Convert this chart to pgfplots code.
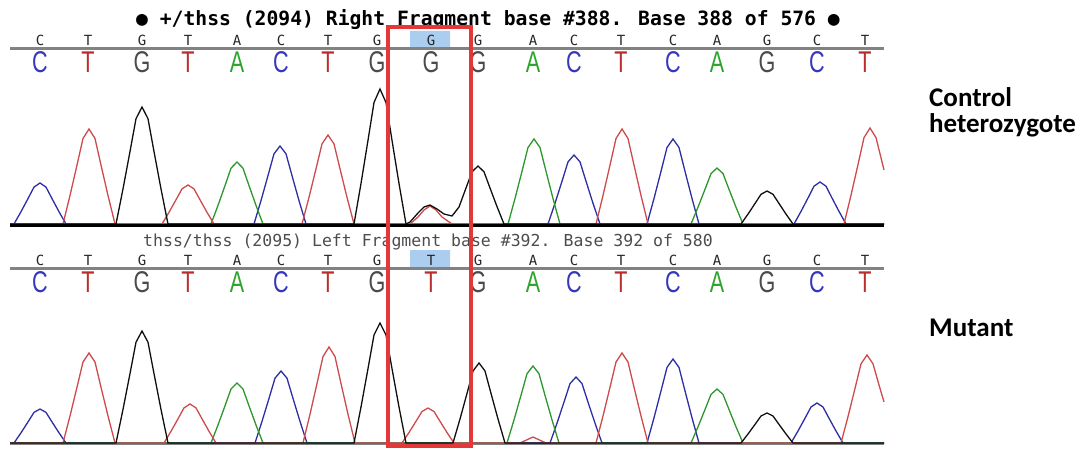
\documentclass[border=0pt]{standalone}
\usepackage{pgfplots}
\pgfplotsset{compat=1.18}
\usepackage{fontspec}
\setmainfont{Liberation Sans}
\newfontfamily\monof{DejaVu Sans Mono}
\newfontfamily\labfont{Carlito}
\newfontfamily\bigf{Liberation Sans}
\definecolor{tblue}{RGB}{45,45,165}
\definecolor{tred}{RGB}{205,75,75}
\definecolor{tgreen}{RGB}{45,150,45}
\definecolor{tblack}{RGB}{15,15,15}
\definecolor{lblue}{RGB}{55,55,185}
\definecolor{lred}{RGB}{185,45,45}
\definecolor{lgreen}{RGB}{45,165,45}
\definecolor{lgray}{RGB}{75,75,75}
\definecolor{rule}{RGB}{130,130,130}
\definecolor{boxred}{RGB}{228,55,55}
\definecolor{hl}{RGB}{170,205,240}
\newcommand{\SL}[2]{\node[anchor=base,inner sep=0pt,font=\monof\fontsize{14}{14}\selectfont,text=black!85] at (axis cs:#1) {#2};}
\newcommand{\BL}[3]{\node[anchor=base,inner sep=0pt,font=\bigf\fontsize{30}{30}\selectfont,text=#2] at (axis cs:#1) {\scalebox{0.72}[1]{#3}};}
\begin{document}
\begin{tikzpicture}
\begin{axis}[hide axis, scale only axis, width=1086pt, height=448pt,
  xmin=0, xmax=1086, ymin=0, ymax=448, y dir=reverse, clip=false]
% highlights
\addplot[fill=hl, draw=none] coordinates {(410,31) (450,31) (450,47) (410,47) (410,31)};
\addplot[fill=hl, draw=none] coordinates {(410,250) (450,250) (450,267) (410,267) (410,250)};
% rules
\addplot[rule, line width=3pt] coordinates {(10,48) (884,48)};
\addplot[rule, line width=3pt] coordinates {(10,268) (884,268)};
\addplot[rule, line width=2pt] coordinates {(10,444) (884,444)};
% small letters top
\SL{40,45}{C}\SL{88,45}{T}\SL{142,45}{G}\SL{188,45}{T}\SL{237,45}{A}\SL{281,45}{C}
\SL{328,45}{T}\SL{377,45}{G}\SL{431,45}{G}\SL{478,45}{G}\SL{533,45}{A}\SL{574,45}{C}
\SL{621,45}{T}\SL{673,45}{C}\SL{717,45}{A}\SL{767,45}{G}\SL{817,45}{C}\SL{865,45}{T}
% small letters bottom
\SL{40,265}{C}\SL{88,265}{T}\SL{142,265}{G}\SL{188,265}{T}\SL{237,265}{A}\SL{281,265}{C}
\SL{328,265}{T}\SL{377,265}{G}\SL{431,265}{T}\SL{478,265}{G}\SL{533,265}{A}\SL{574,265}{C}
\SL{621,265}{T}\SL{673,265}{C}\SL{717,265}{A}\SL{767,265}{G}\SL{817,265}{C}\SL{865,265}{T}
% big letters top
\BL{40,72}{lblue}{C}\BL{88,72}{lred}{T}\BL{142,72}{lgray}{G}\BL{188,72}{lred}{T}\BL{237,72}{lgreen}{A}\BL{281,72}{lblue}{C}
\BL{328,72}{lred}{T}\BL{377,72}{lgray}{G}\BL{431,72}{lgray}{G}\BL{478,72}{lgray}{G}\BL{533,72}{lgreen}{A}\BL{574,72}{lblue}{C}
\BL{621,72}{lred}{T}\BL{673,72}{lblue}{C}\BL{717,72}{lgreen}{A}\BL{767,72}{lgray}{G}\BL{817,72}{lblue}{C}\BL{865,72}{lred}{T}
% big letters bottom
\BL{40,292}{lblue}{C}\BL{88,292}{lred}{T}\BL{142,292}{lgray}{G}\BL{188,292}{lred}{T}\BL{237,292}{lgreen}{A}\BL{281,292}{lblue}{C}
\BL{328,292}{lred}{T}\BL{377,292}{lgray}{G}\BL{431,292}{lred}{T}\BL{478,292}{lgray}{G}\BL{533,292}{lgreen}{A}\BL{574,292}{lblue}{C}
\BL{621,292}{lred}{T}\BL{673,292}{lblue}{C}\BL{717,292}{lgreen}{A}\BL{767,292}{lgray}{G}\BL{817,292}{lblue}{C}\BL{865,292}{lred}{T}
% titles
\node[anchor=base, inner sep=0pt, font=\monof\bfseries\fontsize{19.7}{20}\selectfont] at (axis cs:488,25)
  {● +/thss (2094) Right Fragment base \#388. Base 388 of 576 ●};
\node[anchor=base, inner sep=0pt, font=\monof\fontsize{16.5}{16.5}\selectfont, text=black!70] at (axis cs:428,246)
  {thss/thss (2095) Left Fragment base \#392. Base 392 of 580};
% ---------- top traces (baseline 224)
\addplot[tblue, line width=1.3pt] coordinates {
(10,224)(14,224)(21,211.7)(28,198.6)(34,187.1)(40,183)(46,187.1)(52,198.6)(59,211.7)(66,224)
(254,224)(261,200.6)(268,175.6)(274,153.8)(280,146)(286,153.8)(292,175.6)(299,200.6)(306,224)
(548,224)(555,203.3)(562,181.2)(568,161.9)(574,155)(580,161.9)(586,181.2)(593,203.3)(600,224)
(647,224)(654,198.5)(661,171.3)(667,147.5)(673,139)(679,147.5)(685,171.3)(692,198.5)(699,224)
(794,224)(801,211.4)(808,198)(814,186.2)(820,182)(826,186.2)(832,198)(839,211.4)(846,224)(884,224)};
\addplot[tgreen, line width=1.3pt] coordinates {
(10,224)(211,224)(218,205.4)(225,185.6)(231,168.2)(237,162)(243,168.2)(249,185.6)(256,205.4)(263,224)
(508,224)(515,198.5)(522,171.3)(528,147.5)(534,139)(540,147.5)(546,171.3)(553,198.5)(560,224)
(691,224)(698,207.2)(705,189.3)(711,173.6)(717,168)(723,173.6)(729,189.3)(736,207.2)(743,224)(884,224)};
\addplot[tred, line width=1.3pt] coordinates {
(10,224)(63,224)(70,195.5)(77,165.1)(83,138.5)(89,129)(95,138.5)(101,165.1)(108,195.5)(115,224)
(162,224)(169,212.3)(176,199.8)(182,188.9)(188,185)(194,188.9)(200,199.8)(207,212.3)(214,224)
(302,224)(309,197.3)(316,168.8)(322,143.9)(328,135)(334,143.9)(340,168.8)(347,197.3)(354,224)
(410,224)(418,217)(424,210)(430,206)(436,210)(442,217)(452,224)
(596,224)(603,195.5)(610,165.1)(616,138.5)(622,129)(628,138.5)(634,165.1)(641,195.5)(648,224)
(844,224)(851,195.2)(858,164.5)(864,137.6)(870,128)(876,137.6)(884,170)};
\addplot[tblack, line width=1.3pt] coordinates {
(10,224)(116,224)(123,188.9)(130,151.5)(136,118.7)(142,107)(148,118.7)(154,151.5)(161,188.9)(168,224)
(354,224)(361,183.5)(368,140.3)(374,102.5)(380,89)(386,102.5)(392,140.3)(399,183.5)(406,224)
(410,222)(418,213)(424,207)(430,205)(437,209)(444,214)(452,216)(459,207)
(466,188)(472,171.8)(478,166)(484,171.8)(490,188)(497,206.6)(504,224)
(741,224)(748,214.1)(755,203.5)(761,194.3)(767,191)(773,194.3)(779,203.5)(786,214.1)(793,224)(884,224)};
% ---------- bottom traces (baseline 443)
\addplot[tblue, line width=1.3pt] coordinates {
(10,443)(14,443)(21,432.8)(28,421.9)(34,412.4)(40,409)(46,412.4)(52,421.9)(59,432.8)(66,443)
(255,443)(262,421.4)(269,398.4)(275,378.2)(281,371)(287,378.2)(293,398.4)(300,421.4)(307,443)
(550,443)(557,423.2)(564,402.1)(570,383.6)(576,377)(582,383.6)(588,402.1)(595,423.2)(602,443)
(647,443)(654,417.8)(661,390.9)(667,367.4)(673,359)(679,367.4)(685,390.9)(692,417.8)(699,443)
(791,443)(798,431)(805,418.2)(811,407)(817,403)(823,407)(829,418.2)(836,431)(843,443)(884,443)};
\addplot[tgreen, line width=1.3pt] coordinates {
(10,443)(211,443)(218,425)(225,405.8)(231,389)(237,383)(243,389)(249,405.8)(256,425)(263,443)
(507,443)(514,419.9)(521,395.3)(527,373.7)(533,366)(539,373.7)(545,395.3)(552,419.9)(559,443)
(691,443)(698,426.8)(705,409.5)(711,394.4)(717,389)(723,394.4)(729,409.5)(736,426.8)(743,443)(884,443)};
\addplot[tred, line width=1.3pt] coordinates {
(10,443)(63,443)(70,416)(77,387.2)(83,362)(89,353)(95,362)(101,387.2)(108,416)(115,443)
(164,443)(171,431.3)(178,418.8)(184,407.9)(190,404)(196,407.9)(202,418.8)(209,431.3)(216,443)
(303,443)(310,414.2)(317,383.5)(323,356.6)(329,347)(335,356.6)(341,383.5)(348,414.2)(355,443)
(402,443)(409,432.5)(416,421.3)(422,411.5)(428,408)(434,411.5)(440,421.3)(447,432.5)(454,443)
(520,443)(533,437)(546,443)
(596,443)(603,416)(610,387.2)(616,362)(622,353)(628,362)(634,387.2)(641,416)(648,443)
(841,443)(848,416.6)(855,388.4)(861,363.8)(867,355)(873,363.8)(879,385)(884,402)};
\addplot[tblack, line width=1.3pt] coordinates {
(10,443)(116,443)(123,409.4)(130,373.6)(136,342.2)(142,331)(148,342.2)(154,373.6)(161,409.4)(168,443)
(354,443)(361,407)(368,368.6)(374,335)(380,323)(386,335)(392,368.6)(399,407)(406,443)
(453,443)(460,419)(467,393.4)(473,371)(479,363)(485,371)(491,393.4)(498,419)(505,443)
(741,443)(748,434)(755,424.4)(761,416)(767,413)(773,416)(779,424.4)(786,434)(793,443)(884,443)};
% top baseline
\addplot[black, line width=3pt] coordinates {(10,225.5) (884,225.5)};
% red box
\addplot[boxred, line width=4pt, line join=miter, line cap=rect] coordinates {(388,27) (471,27) (471,446) (388,446) (388,27)};
% right labels
\node[anchor=base west, inner sep=0pt, font=\labfont\bfseries\fontsize{27}{27}\selectfont] at (axis cs:929,106) {Control};
\node[anchor=base west, inner sep=0pt, font=\labfont\bfseries\fontsize{27}{27}\selectfont] at (axis cs:929,132) {heterozygote};
\node[anchor=base west, inner sep=0pt, font=\labfont\bfseries\fontsize{27}{27}\selectfont] at (axis cs:929,336) {Mutant};
\end{axis}
\pgfresetboundingbox
\useasboundingbox (current axis.south west) rectangle (current axis.north east);
\end{tikzpicture}
\end{document}
